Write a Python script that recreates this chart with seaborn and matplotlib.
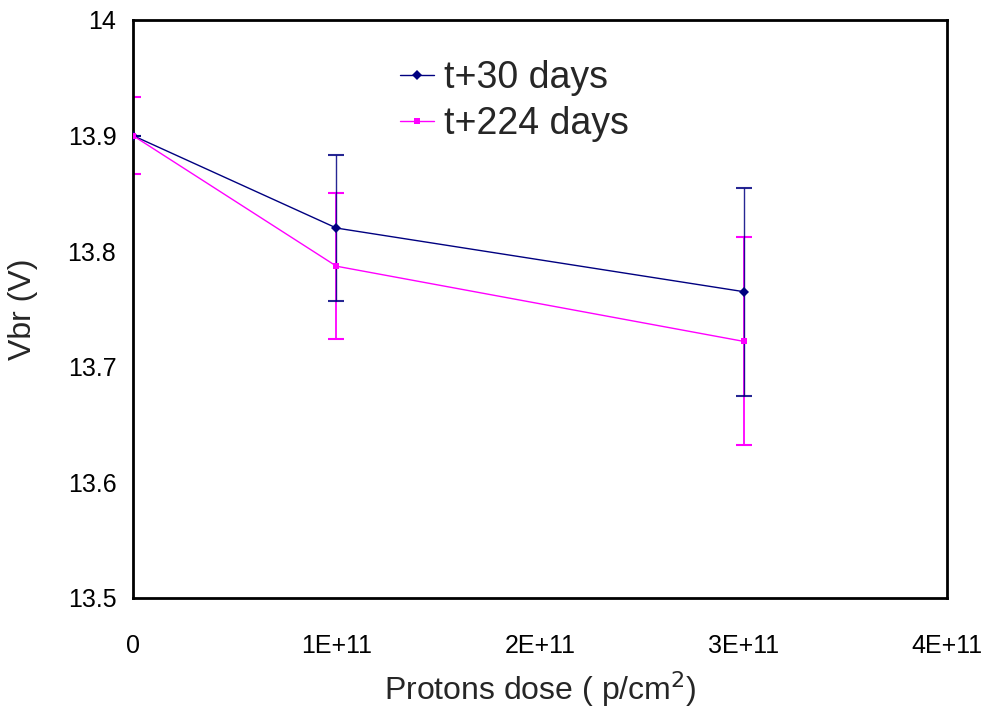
import numpy as np
import pandas as pd
import matplotlib
matplotlib.use("Agg")
import matplotlib.pyplot as plt
import seaborn as sns

# values
dose = [0, 1e11, 3e11]
vbr_30 = [13.90, 13.820, 13.765]
err_30 = [0.0, 0.063, 0.090]
vbr_224 = [13.90, 13.787, 13.722]
err_224 = [0.033, 0.063, 0.090]
labels = ["t+30 days", "t+224 days"]

df = pd.DataFrame({
    "dose": dose * 2,
    "vbr": vbr_30 + vbr_224,
    "series": [labels[0]] * 3 + [labels[1]] * 3,
})

sns.set_style("white")
plt.rcParams["font.family"] = ["Liberation Sans", "DejaVu Sans"]

fig = plt.figure(figsize=(9.9, 7.09), dpi=100)
ax = fig.add_axes([0.1343, 0.1566, 0.8223, 0.8152])

palette = {labels[0]: "#000080", labels[1]: "#FF00FF"}

# error bars first, lines on top
ax.errorbar(dose, vbr_224, yerr=err_224, fmt="none", ecolor="#FF00FF",
            elinewidth=1.3, capsize=6, capthick=1.5, zorder=2)
ax.errorbar(dose, vbr_30, yerr=err_30, fmt="none", ecolor="#000080",
            elinewidth=1.0, capsize=6, capthick=1.5, zorder=3, alpha=0.85)

sns.lineplot(data=df, x="dose", y="vbr", hue="series", style="series",
             palette=palette, markers={labels[0]: "D", labels[1]: "s"},
             dashes=False, markersize=5, linewidth=1.0, ax=ax, zorder=4,
             markeredgewidth=0)

ax.set_xlim(0, 4e11)
ax.set_ylim(13.5, 14.0)
ax.set_xticks([0, 1e11, 2e11, 3e11, 4e11])
ax.set_xticklabels(["0", "1E+11", "2E+11", "3E+11", "4E+11"])
ax.set_yticks([13.5, 13.6, 13.7, 13.8, 13.9, 14.0])
ax.set_yticklabels(["13.5", "13.6", "13.7", "13.8", "13.9", "14"])
ax.tick_params(axis="both", direction="in", length=6, width=1, colors="black",
               labelsize=18)
ax.tick_params(axis="x", pad=26)
ax.tick_params(axis="y", pad=12)
ax.tick_params(top=False, right=False)

for s in ax.spines.values():
    s.set_color("black")
    s.set_linewidth(2)

ax.set_xlabel("Protons dose ( p/cm$^2$)", fontsize=23, labelpad=8)
ax.set_ylabel("Vbr (V)", fontsize=23)
ax.yaxis.set_label_coords(-0.117, 0.5)

ax.legend(title=None, frameon=False, fontsize=27, loc="upper left",
          bbox_to_anchor=(0.328, 0.93), borderaxespad=0, borderpad=0,
          handlelength=0.9, handletextpad=0.28, labelspacing=0.25)

fig.savefig("out.png", dpi=100)
